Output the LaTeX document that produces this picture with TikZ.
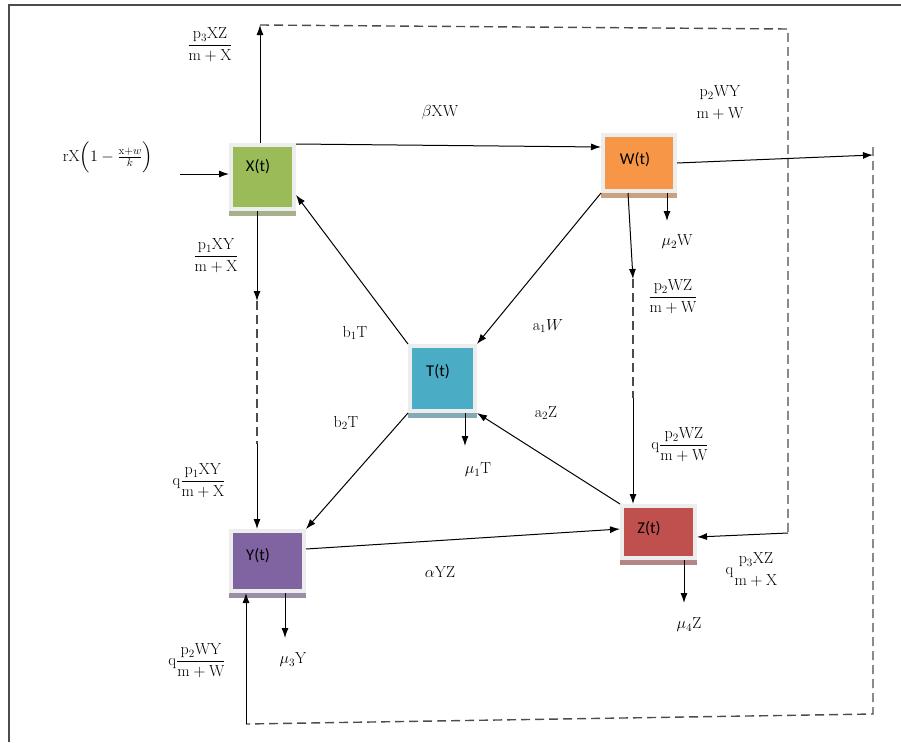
\documentclass[tikz,border=0pt]{standalone}
\usepackage{fontspec}
\usepackage{amsmath}
\usepackage{fix-cm}
\newfontfamily\boxfont{Carlito}
\usetikzlibrary{arrows.meta,backgrounds}
\definecolor{xgreen}{HTML}{9BBB59}
\definecolor{worange}{HTML}{F79646}
\definecolor{tteal}{HTML}{4BACC6}
\definecolor{ypurple}{HTML}{8064A2}
\definecolor{zred}{HTML}{C0504D}
\tikzset{
  boxnode/.style={rectangle, draw=black!7, line width=4pt, inner sep=0pt},
  boxlbl/.style={font=\boxfont\fontsize{16.5}{18}\selectfont, inner sep=0pt},
  mlbl/.style={font=\fontsize{16}{18}\selectfont, inner sep=0pt, align=center},
  arr/.style={-{Latex[length=10pt,width=7pt]}, line width=1pt, black},
  dsh/.style={dash pattern=on 9pt off 5pt, line width=1.4pt, black!70},
}
\begin{document}
\begin{tikzpicture}[x=1pt,y=-1pt]
\useasboundingbox (0,0) rectangle (901,742);
% outer frame (only top and left visible)
\draw[line width=1.5pt, black!70] (9,742) -- (9,5) -- (901,5);

% boxes
\node[boxnode, fill=xgreen, minimum width=63pt, minimum height=64pt] (X) at (262.5,177) {};
\node[boxnode, fill=worange, minimum width=72pt, minimum height=56pt] (W) at (639,163) {};
\node[boxnode, fill=tteal, minimum width=65pt, minimum height=65pt] (T) at (442.5,378.5) {};
\node[boxnode, fill=ypurple, minimum width=73pt, minimum height=60pt] (Y) at (267.5,561) {};
\node[boxnode, fill=zred, minimum width=73pt, minimum height=52pt] (Z) at (658.5,532) {};
\begin{scope}[on background layer]
  \fill[xgreen!50!gray!80] (X.south west) rectangle ([yshift=-5pt]X.south east);
  \fill[worange!50!gray!80] (W.south west) rectangle ([yshift=-5pt]W.south east);
  \fill[tteal!50!gray!80] (T.south west) rectangle ([yshift=-5pt]T.south east);
  \fill[ypurple!50!gray!80] (Y.south west) rectangle ([yshift=-5pt]Y.south east);
  \fill[zred!50!gray!80] (Z.south west) rectangle ([yshift=-5pt]Z.south east);
\end{scope}
\node[boxlbl] (Xt) at (258,167) {X(t)};
\node[boxlbl] (Wt) at (635,160) {W(t)};
\node[boxlbl] (Tt) at (438,372) {T(t)};
\node[boxlbl] (Yt) at (258,556) {Y(t)};
\node[boxlbl] (Zt) at (649,529) {Z(t)};

% free-end coordinates
\coordinate (rin) at (180,174);
\coordinate (top1) at (260,25);
\coordinate (c1) at (788,29);
\coordinate (c2) at (788,533);
\coordinate (d1) at (873,147);
\coordinate (d2) at (873,714);
\coordinate (d3) at (246,724);
\coordinate (wr) at (873,155);
\coordinate (m2) at (667,221);
\coordinate (wz1) at (633,279);
\coordinate (wz2) at (633,398);
\coordinate (xy1) at (257,301);
\coordinate (xy2) at (257,444);
\coordinate (m1) at (465,446);
\coordinate (m3) at (285,638);
\coordinate (m4) at (684,603);

% connectors
\draw[arr] (rin) -- (rin -| X.west);
\draw[arr] (X.north -| top1) -- (top1);
\draw[dsh] (top1) -- (c1) -- (c2);
\draw[arr] (c2) -- ([yshift=-5pt]Z.east);
\draw[arr] ([yshift=-1pt]X.north east) -- ([yshift=16pt]W.west);
\draw[arr] (W.east) -- (wr);
\draw[dsh] (d1) -- (d2) -- (d3);
\draw[arr] (d3) -- (d3 |- Y.south);
\draw[arr] (m2 |- W.south) -- (m2);
\draw[arr] ([xshift=-11pt]W.south) -- (wz1);
\draw[dsh] (wz1) -- (wz2);
\draw[arr] (wz2) -- (wz2 |- Z.north);
\draw[arr] (xy1 |- X.south) -- (xy1);
\draw[dsh] (xy1) -- (xy2);
\draw[arr] (xy2) -- (xy2 |- Y.north);
\draw[arr] (T.north west) -- ([yshift=-18pt]X.east);
\draw[arr] (W.south west) -- (T.north east);
\draw[arr] (T.south west) -- (Y.north east);
\draw[arr] (Z.north west) -- (T.south east);
\draw[arr] (m1 |- T.south) -- (m1);
\draw[arr] ([yshift=12pt]Y.east) -- ([yshift=3pt]Z.west);
\draw[arr] (m3 |- Y.south) -- (m3);
\draw[arr] (m4 |- Z.south) -- (m4);

% labels
\node[mlbl] (lr) at (108,157) {$\mathrm{rX}\Bigl(1-\frac{\mathrm{x}+w}{k}\Bigr)$};
\node[mlbl] (lp3) at (210,45) {$\dfrac{\mathrm{p_3XZ}}{\mathrm{m+X}}$};
\node[mlbl] (lbeta) at (440,112) {$\beta\mathrm{XW}$};
\node[mlbl] (lp2wy) at (720,103) {$\genfrac{}{}{0pt}{0}{\mathrm{p_2WY}}{\mathrm{m+W}}$};
\node[mlbl] (lmu2) at (677,242) {$\mu_2\mathrm{W}$};
\node[mlbl] (lp1) at (216,256) {$\dfrac{\mathrm{p_1XY}}{\mathrm{m+X}}$};
\node[mlbl] (lp2wz) at (673,297) {$\dfrac{\mathrm{p_2WZ}}{\mathrm{m+W}}$};
\node[mlbl] (lb1) at (355,333) {$\mathrm{b_1T}$};
\node[mlbl] (la1) at (548,326) {$\mathrm{a_1}W$};
\node[mlbl] (lb2) at (346,423) {$\mathrm{b_2T}$};
\node[mlbl] (la2) at (546,413) {$\mathrm{a_2Z}$};
\node[mlbl] (lqp2wz) at (680,445) {$\mathrm{q}\dfrac{\mathrm{p_2WZ}}{\mathrm{m+W}}$};
\node[mlbl] (lmu1) at (478,470) {$\mu_1\mathrm{T}$};
\node[mlbl] (lqp1) at (199,481) {$\mathrm{q}\dfrac{\mathrm{p_1XY}}{\mathrm{m+X}}$};
\node[mlbl] (lalpha) at (440,572) {$\alpha\mathrm{YZ}$};
\node[mlbl] (lqp3) at (752,570) {$\mathrm{q}\genfrac{}{}{0pt}{0}{\mathrm{p_3XZ}}{\mathrm{m+X}}$};
\node[mlbl] (lmu4) at (689,625) {$\mu_4\mathrm{Z}$};
\node[mlbl] (lmu3) at (293,660) {$\mu_3\mathrm{Y}$};
\node[mlbl] (lqp2wy) at (197,661) {$\mathrm{q}\dfrac{\mathrm{p_2WY}}{\mathrm{m+W}}$};
\end{tikzpicture}
\end{document}
